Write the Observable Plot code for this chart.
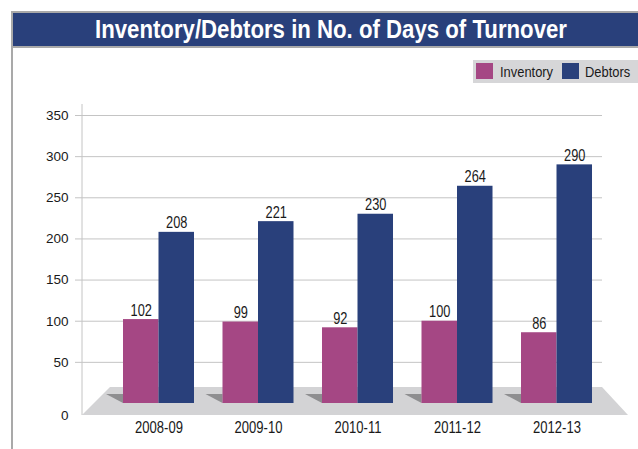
<!DOCTYPE html>
<html>
<head>
<meta charset="utf-8">
<script src="https://cdn.jsdelivr.net/npm/d3@7"></script>
<script src="https://cdn.jsdelivr.net/npm/@observablehq/plot@0.6"></script>
<style>
  html, body { margin: 0; padding: 0; background: #fff; }
  #page { position: relative; width: 638px; height: 449px; overflow: hidden; background: #fff; }
  #frame { position: absolute; left: 11px; top: 11px; width: 640px; height: 460px; border-left: 2px solid #a9a9a9; border-top: 2px solid #a9a9a9; box-sizing: border-box; }
  #title { position: absolute; left: 13px; top: 13px; width: 625px; height: 33px; background: #29407b;
           border-bottom: 2px solid #a9a9a9; }
  #title span { position: absolute; left: 0; top: 0; line-height: 33px; color: #fff; white-space: nowrap;
           font-family: "Liberation Sans", Arial, sans-serif; font-weight: bold; font-size: 25px; transform-origin: 0 50%; }
  #legend { position: absolute; left: 473px; top: 60px; width: 165px; height: 23px; background: #d6d6d8;
            font-family: "Liberation Sans", Arial, sans-serif; font-size: 15px; color: #1a1a1a; }
  #legend .sw { position: absolute; top: 3px; width: 17px; height: 16px; }
  #legend .lb { position: absolute; top: 0; line-height: 23px; transform: scaleX(0.86); transform-origin: 0 50%; }
  #chart { position: absolute; left: 0; top: 90px; }
  #chart svg g[aria-label="y-axis tick"] path, #chart svg g[aria-label="y-axis tick"] line { stroke: #c4c4c4; }
  #chart svg text { fill: #1a1a1a; }
</style>
</head>
<body>
<div id="page">
  <div id="frame"></div>
  <div id="title"><span>Inventory/Debtors in No. of Days of Turnover</span></div>
  <div id="legend"></div>
  <div id="chart"></div>
</div>
<script>
// ---- data ----
const years = ["2008-09", "2009-10", "2010-11", "2011-12", "2012-13"];
const inventory = [102, 99, 92, 100, 86];
const debtors = [208, 221, 230, 264, 290];
const yTicks = [50, 100, 150, 200, 250, 300, 350];
const seriesNames = ["Inventory", "Debtors"];
const seriesColors = ["#a54784", "#29407b"];

const data = years.map((year, i) => ({year, inventory: inventory[i], debtors: debtors[i]}));

// title: condensed look by horizontal scaling to the reference width
const tspan = document.querySelector("#title span");
const tw = tspan.getBoundingClientRect().width;
tspan.style.left = (95 - 13) + "px";
tspan.style.transform = `scaleX(${472 / tw})`;

// legend
const legend = document.getElementById("legend");
const legPos = [[3, 27], [89, 112]];
seriesNames.forEach((name, i) => {
  const sw = document.createElement("div");
  sw.className = "sw"; sw.style.left = legPos[i][0] + "px"; sw.style.background = seriesColors[i];
  const lb = document.createElement("div");
  lb.className = "lb"; lb.style.left = legPos[i][1] + "px"; lb.textContent = name;
  legend.appendChild(sw); legend.appendChild(lb);
});

// layout
const W = 638, H = 359;
const xRange = [82, 633], padIn = 0.2864, padOut = 0.412;
const bw = d3.scaleBand(years, xRange).paddingInner(padIn).paddingOuter(padOut).bandwidth();

// floor, axis line and bar shadows, positioned from the library's scales
function floor(index, scales, values, dimensions) {
  const y0 = scales.y(0);
  const left = dimensions.marginLeft, right = dimensions.width - dimensions.marginRight;
  const g = d3.create("svg:g");
  g.append("path")
    .attr("d", `M${left},${y0 + 12}L${left + 28},${y0 - 16}L${right},${y0 - 16}L${right + 26},${y0 + 12}Z`)
    .attr("fill", "#d3d3d5");
  for (const yr of years) {
    const xl = scales.x(yr);
    g.append("path")
      .attr("d", `M${xl - 17},${y0 - 9}L${xl},${y0 - 9}L${xl},${y0}Z`)
      .attr("fill", "#8e8e90");
  }
  g.append("line")
    .attr("x1", left).attr("x2", left)
    .attr("y1", scales.y(350) - 11).attr("y2", y0 + 12)
    .attr("stroke", "#c4c4c4");
  return g.node();
}

const plot = Plot.plot({
  width: W,
  height: H,
  marginLeft: 82,
  marginRight: 36,
  marginTop: 25,
  marginBottom: 46,
  style: {fontFamily: "Liberation Sans, Arial, sans-serif", fontSize: "13.5px", color: "#1a1a1a", background: "transparent"},
  x: {domain: years, range: xRange, paddingInner: padIn, paddingOuter: padOut, round: false,
      tickSize: 0, tickPadding: 18, label: null},
  y: {domain: [0, 350], ticks: yTicks, tickSize: 7, tickPadding: 7, label: null, line: false},
  marks: [
    floor,
    Plot.ruleY(yTicks, {stroke: "#c4c4c4"}),
    Plot.barY(data, {x: "year", y: "inventory", fill: seriesColors[0], insetRight: bw / 2}),
    Plot.barY(data, {x: "year", y: "debtors", fill: seriesColors[1], insetLeft: bw / 2}),
    Plot.text(data, {x: "year", y: "inventory", text: d => String(d.inventory), dx: -bw / 4, dy: -4, lineAnchor: "bottom", fontSize: 16, className: "vlab"}),
    Plot.text(data, {x: "year", y: "debtors", text: d => String(d.debtors), dx: bw / 4, dy: -4, lineAnchor: "bottom", fontSize: 16, className: "vlab"}),
    Plot.text([0], {y: d => d, text: d => String(d), frameAnchor: "left", dx: -14, dy: 12, textAnchor: "end", fontSize: 13.5})
  ]
});
document.getElementById("chart").appendChild(plot);

// condensed appearance of x labels and value labels: horizontal scaling about each text's anchor
function condense(textEl, sx) {
  const t = textEl.getAttribute("transform");
  if (t) {
    textEl.setAttribute("transform", t + ` scale(${sx},1)`);
  } else {
    const x = +(textEl.getAttribute("x") || 0), y = +(textEl.getAttribute("y") || 0);
    textEl.setAttribute("x", 0); textEl.setAttribute("y", 0);
    textEl.setAttribute("transform", `translate(${x},${y}) scale(${sx},1)`);
  }
}
plot.querySelectorAll('g[aria-label="y-axis tick label"]').forEach(g => { g.style.fontSize = "13.5px"; });
plot.querySelectorAll('g[aria-label="y-axis tick label"] text').forEach(t => { t.style.fontSize = "13.5px"; });
plot.querySelectorAll('g[aria-label="x-axis tick label"]').forEach(g => { g.style.fontSize = "16.5px"; });
plot.querySelectorAll('g[aria-label="x-axis tick label"] text').forEach(t => {
  t.style.fontSize = "16.5px";
  condense(t, 0.79);
});
plot.querySelectorAll('g.vlab text, g[class*="vlab"] text').forEach(t => condense(t, 0.8));
</script>
</body>
</html>
